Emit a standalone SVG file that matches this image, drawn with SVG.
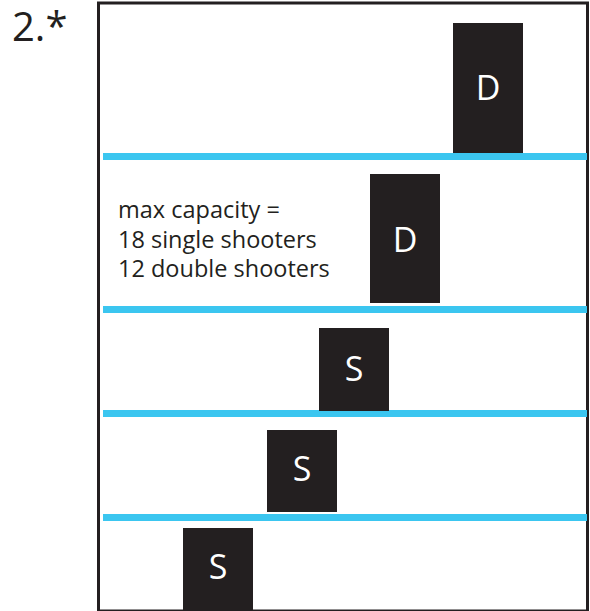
<svg xmlns="http://www.w3.org/2000/svg" width="590" height="611" viewBox="0 0 590 611">
<style>
.box{fill:#231f20}
.lbl{fill:#ffffff;font-family:"Open Sans","Noto Sans",sans-serif;font-size:34px;text-anchor:middle}
.shelf{fill:#3bc6f0}
.txt{fill:#231f20;font-family:"Open Sans","Noto Sans",sans-serif;font-size:23.5px}
</style>
<rect width="590" height="611" fill="#ffffff"/>
<text x="12" y="41" style="fill:#231f20;font-family:'Open Sans','Noto Sans',sans-serif;font-size:40px">2.*</text>
<rect x="98.5" y="3" width="489" height="608" fill="none" stroke="#231f20" stroke-width="3"/>
<g id="shelves">
<rect class="shelf" x="103" y="153" width="484" height="7"/>
<rect class="shelf" x="103" y="306" width="484" height="7"/>
<rect class="shelf" x="103" y="410" width="484" height="7"/>
<rect class="shelf" x="103" y="514" width="484" height="7"/>
</g>
<g id="d1"><rect class="box" x="453" y="23" width="70" height="130"/><text class="lbl" x="488" y="100">D</text></g>
<g id="d2"><rect class="box" x="370" y="174" width="70" height="129"/><text class="lbl" x="405" y="252">D</text></g>
<g id="s1"><rect class="box" x="319" y="328" width="70" height="83"/><text class="lbl" x="354" y="381">S</text></g>
<g id="s2"><rect class="box" x="267" y="430" width="70" height="82"/><text class="lbl" x="302" y="481">S</text></g>
<g id="s3"><rect class="box" x="183" y="528" width="70" height="83"/><text class="lbl" x="218" y="579">S</text></g>
<g id="note">
<text class="txt" x="118" y="218">max capacity =</text>
<text class="txt" x="118" y="248">18 single shooters</text>
<text class="txt" x="118" y="277">12 double shooters</text>
</g>
</svg>
